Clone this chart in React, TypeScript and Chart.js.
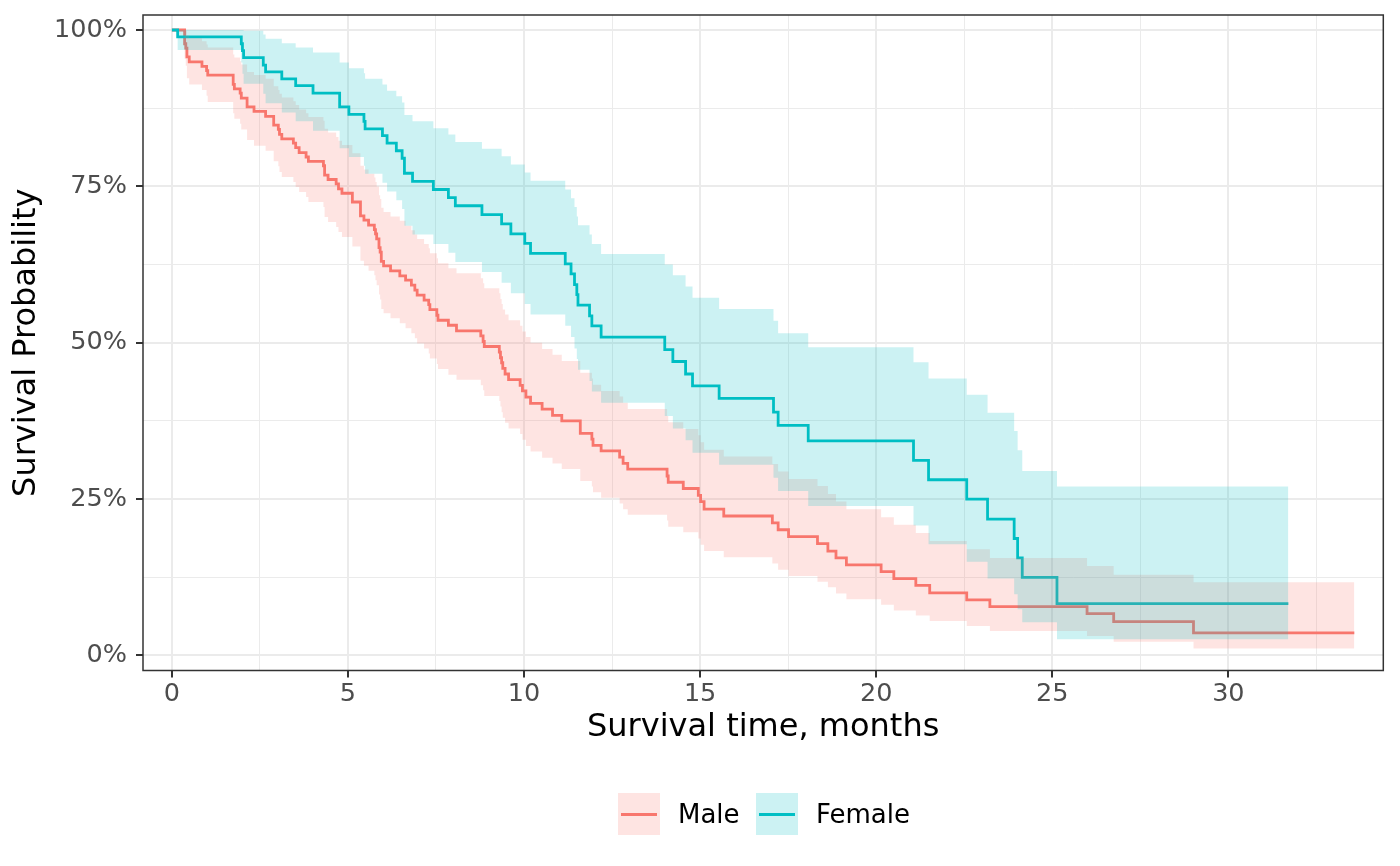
import React, { useEffect, useRef } from "react";
import { Chart, registerables } from "chart.js";

Chart.register(...registerables);

const DAYS_PER_MONTH = 30.4375;
const FONT = "'DejaVu Sans', sans-serif";

// Male group: event times (days), survival estimate and 95% CI bounds
const maleTimeDays = [
  11, 12, 13, 15, 26, 30, 31, 53, 54, 59,
  60, 65, 71, 81, 88, 92, 93, 95, 105, 107,
  110, 116, 118, 131, 132, 135, 142, 144, 147, 156,
  163, 166, 170, 175, 176, 177, 179, 180, 181, 183,
  189, 197, 202, 207, 210, 212, 218, 222, 223, 229,
  230, 239, 246, 267, 269, 270, 283, 284, 285, 286,
  288, 291, 301, 303, 306, 310, 320, 329, 337, 353,
  363, 364, 371, 387, 390, 394, 428, 429, 442, 455,
  457, 460, 477, 519, 524, 533, 558, 567, 574, 583,
  613, 624, 643, 655, 687, 707, 791, 814, 883,
];
const maleSurvival = [
  0.978, 0.971, 0.957, 0.949, 0.942, 0.935, 0.928, 0.913, 0.906, 0.899,
  0.891, 0.877, 0.870, 0.862, 0.848, 0.841, 0.833, 0.826, 0.819, 0.812,
  0.804, 0.797, 0.790, 0.783, 0.768, 0.761, 0.754, 0.746, 0.739, 0.725,
  0.703, 0.696, 0.688, 0.681, 0.674, 0.666, 0.652, 0.645, 0.630, 0.623,
  0.615, 0.607, 0.600, 0.592, 0.584, 0.576, 0.568, 0.561, 0.553, 0.544,
  0.536, 0.528, 0.519, 0.511, 0.502, 0.494, 0.485, 0.476, 0.468, 0.459,
  0.450, 0.441, 0.432, 0.423, 0.413, 0.403, 0.394, 0.384, 0.375, 0.355,
  0.346, 0.336, 0.327, 0.317, 0.307, 0.298, 0.287, 0.277, 0.267, 0.256,
  0.246, 0.234, 0.223, 0.212, 0.201, 0.190, 0.179, 0.167, 0.156, 0.145,
  0.134, 0.123, 0.112, 0.100, 0.089, 0.078, 0.067, 0.054, 0.036,
];
const maleLower = [
  0.954, 0.943, 0.923, 0.913, 0.904, 0.895, 0.885, 0.867, 0.858, 0.850,
  0.841, 0.824, 0.815, 0.807, 0.790, 0.782, 0.773, 0.765, 0.757, 0.749,
  0.741, 0.733, 0.725, 0.717, 0.701, 0.693, 0.685, 0.677, 0.669, 0.654,
  0.631, 0.623, 0.615, 0.608, 0.600, 0.592, 0.577, 0.569, 0.554, 0.547,
  0.539, 0.531, 0.523, 0.515, 0.507, 0.499, 0.491, 0.483, 0.475, 0.466,
  0.458, 0.449, 0.441, 0.432, 0.424, 0.415, 0.407, 0.398, 0.389, 0.380,
  0.372, 0.363, 0.354, 0.345, 0.335, 0.326, 0.316, 0.307, 0.298, 0.279,
  0.270, 0.261, 0.252, 0.243, 0.234, 0.225, 0.216, 0.206, 0.197, 0.187,
  0.177, 0.167, 0.157, 0.147, 0.137, 0.127, 0.118, 0.109, 0.099, 0.090,
  0.081, 0.072, 0.064, 0.055, 0.047, 0.039, 0.031, 0.022, 0.011,
];
const maleUpper = [
  1.000, 0.999, 0.991, 0.987, 0.982, 0.977, 0.972, 0.961, 0.956, 0.950,
  0.945, 0.933, 0.928, 0.922, 0.910, 0.904, 0.898, 0.892, 0.886, 0.880,
  0.873, 0.867, 0.861, 0.855, 0.842, 0.836, 0.829, 0.823, 0.816, 0.803,
  0.783, 0.777, 0.770, 0.764, 0.757, 0.750, 0.736, 0.730, 0.716, 0.709,
  0.702, 0.695, 0.687, 0.680, 0.673, 0.666, 0.658, 0.651, 0.643, 0.635,
  0.627, 0.619, 0.611, 0.603, 0.595, 0.587, 0.579, 0.570, 0.562, 0.553,
  0.545, 0.536, 0.527, 0.518, 0.509, 0.500, 0.490, 0.481, 0.471, 0.452,
  0.443, 0.433, 0.423, 0.414, 0.404, 0.394, 0.383, 0.373, 0.362, 0.352,
  0.341, 0.329, 0.318, 0.306, 0.294, 0.282, 0.271, 0.258, 0.246, 0.234,
  0.221, 0.209, 0.196, 0.183, 0.170, 0.156, 0.143, 0.129, 0.117,
];
const maleEndDay = 1022;

// Female group
const femaleTimeDays = [
  5, 60, 61, 62, 79, 81, 95, 107, 122, 145,
  153, 166, 167, 182, 186, 194, 199, 201, 208, 226,
  239, 245, 268, 285, 293, 305, 310, 340, 345, 348,
  350, 351, 361, 363, 371, 426, 433, 444, 450, 473,
  520, 524, 550, 641, 654, 687, 705, 728, 731, 735, 765,
];
const femaleSurvival = [
  0.989, 0.978, 0.967, 0.956, 0.944, 0.933, 0.922, 0.911, 0.899, 0.877,
  0.865, 0.854, 0.842, 0.831, 0.819, 0.807, 0.795, 0.771, 0.758, 0.745,
  0.732, 0.719, 0.705, 0.690, 0.674, 0.659, 0.643, 0.626, 0.610, 0.593,
  0.577, 0.560, 0.543, 0.527, 0.509, 0.489, 0.470, 0.450, 0.431, 0.411,
  0.389, 0.368, 0.343, 0.312, 0.281, 0.250, 0.218, 0.187, 0.156, 0.125, 0.083,
];
const femaleLower = [
  0.968, 0.948, 0.930, 0.914, 0.898, 0.883, 0.868, 0.854, 0.839, 0.811,
  0.797, 0.783, 0.770, 0.756, 0.742, 0.728, 0.714, 0.687, 0.673, 0.658,
  0.644, 0.629, 0.613, 0.596, 0.579, 0.562, 0.545, 0.527, 0.509, 0.491,
  0.474, 0.457, 0.439, 0.422, 0.404, 0.383, 0.363, 0.344, 0.324, 0.305,
  0.284, 0.263, 0.239, 0.208, 0.178, 0.150, 0.123, 0.098, 0.074, 0.053, 0.026,
];
const femaleUpper = [
  1.000, 1.000, 1.000, 0.999, 0.993, 0.986, 0.979, 0.972, 0.964, 0.948,
  0.939, 0.931, 0.922, 0.913, 0.903, 0.894, 0.884, 0.864, 0.854, 0.843,
  0.833, 0.821, 0.810, 0.798, 0.785, 0.772, 0.759, 0.745, 0.731, 0.717,
  0.702, 0.688, 0.673, 0.658, 0.642, 0.625, 0.608, 0.590, 0.572, 0.554,
  0.535, 0.515, 0.493, 0.469, 0.443, 0.417, 0.388, 0.359, 0.328, 0.295, 0.270,
];
const femaleEndDay = 965;

// Axis ticks
const xMajorTicks = [0, 5, 10, 15, 20, 25, 30];
const xTickLabels = ["0", "5", "10", "15", "20", "25", "30"];
const xMinorTicks = [2.5, 7.5, 12.5, 17.5, 22.5, 27.5, 32.5];
const yMajorTicks = [0, 0.25, 0.5, 0.75, 1];
const yTickLabels = ["0%", "25%", "50%", "75%", "100%"];
const yMinorTicks = [0.125, 0.375, 0.625, 0.875];

const groupNames = ["Male", "Female"];
const MALE_COLOR = "#F8766D";
const FEMALE_COLOR = "#00BFC4";
const MALE_FILL = "rgba(248,118,109,0.2)";
const FEMALE_FILL = "rgba(0,191,196,0.2)";

function stepPoints(times: number[], values: number[], endDay: number) {
  const pts: { x: number; y: number }[] = [{ x: 0, y: 1 }];
  let prev = 1;
  times.forEach((d, i) => {
    const t = d / DAYS_PER_MONTH;
    pts.push({ x: t, y: prev });
    pts.push({ x: t, y: values[i] });
    prev = values[i];
  });
  pts.push({ x: endDay / DAYS_PER_MONTH, y: prev });
  return pts;
}

const isIn = (v: number, arr: number[]) => arr.some((m) => Math.abs(m - v) < 1e-9);

const panelBorder = {
  id: "panelBorder",
  afterDraw(chart: any) {
    const { ctx, chartArea: a } = chart;
    ctx.save();
    ctx.strokeStyle = "#333333";
    ctx.lineWidth = 1.5;
    ctx.strokeRect(a.left, a.top, a.right - a.left, a.bottom - a.top);
    ctx.restore();
  },
};

export default function App() {
  const ref = useRef<HTMLCanvasElement | null>(null);

  useEffect(() => {
    if (!ref.current) return;
    const ribbon = (data: any, color: string, fill: any) => ({
      data,
      borderColor: "rgba(0,0,0,0)",
      borderWidth: 0,
      backgroundColor: color,
      pointRadius: 0,
      fill,
      tension: 0,
    });
    const line = (data: any, color: string, label: string) => ({
      label,
      data,
      borderColor: color,
      borderWidth: 2.8,
      pointRadius: 0,
      fill: false,
      tension: 0,
      borderJoinStyle: "miter",
    });

    const chart = new Chart(ref.current, {
      type: "line",
      data: {
        datasets: [
          ribbon(stepPoints(femaleTimeDays, femaleUpper, femaleEndDay), FEMALE_FILL, "+1"),
          ribbon(stepPoints(femaleTimeDays, femaleLower, femaleEndDay), "rgba(0,0,0,0)", false),
          ribbon(stepPoints(maleTimeDays, maleUpper, maleEndDay), MALE_FILL, "+1"),
          ribbon(stepPoints(maleTimeDays, maleLower, maleEndDay), "rgba(0,0,0,0)", false),
          line(stepPoints(femaleTimeDays, femaleSurvival, femaleEndDay), FEMALE_COLOR, groupNames[1]),
          line(stepPoints(maleTimeDays, maleSurvival, maleEndDay), MALE_COLOR, groupNames[0]),
        ] as any,
      },
      options: {
        animation: false,
        responsive: false,
        events: [],
        layout: { padding: { top: 15, right: 16.7, bottom: 119.5, left: 0 } },
        plugins: {
          legend: { display: false },
          tooltip: { enabled: false },
          filler: { propagate: false },
        },
        scales: {
          x: {
            type: "linear",
            min: -0.82,
            max: 34.4,
            afterBuildTicks: (s: any) => {
              s.ticks = [...xMajorTicks, ...xMinorTicks].sort((a, b) => a - b).map((v) => ({ value: v }));
            },
            afterFit: (s: any) => {
              s.height = 76;
              s.paddingLeft = 0;
              s.paddingRight = 0;
            },
            border: { display: false },
            grid: {
              color: "#EBEBEB",
              lineWidth: (c: any) => (c.tick && isIn(c.tick.value, xMajorTicks) ? 2 : 1),
              tickLength: 7,
              tickWidth: 2,
              tickColor: (c: any) => (c.tick && isIn(c.tick.value, xMajorTicks) ? "#333333" : "rgba(0,0,0,0)"),
            },
            ticks: {
              autoSkip: false,
              maxRotation: 0,
              padding: 2,
              color: "#4D4D4D",
              font: { family: FONT, size: 25.5 },
              callback: (v: any) => {
                const i = xMajorTicks.findIndex((m) => Math.abs(m - v) < 1e-9);
                return i >= 0 ? xTickLabels[i] : "";
              },
            },
            title: {
              display: true,
              text: "Survival time, months",
              color: "#000000",
              font: { family: FONT, size: 32 },
              padding: { top: 0, bottom: 0 },
            },
          },
          y: {
            type: "linear",
            min: -0.024,
            max: 1.024,
            afterBuildTicks: (s: any) => {
              s.ticks = [...yMajorTicks, ...yMinorTicks].sort((a, b) => a - b).map((v) => ({ value: v }));
            },
            afterFit: (s: any) => {
              s.width = 143;
              s.paddingTop = 0;
              s.paddingBottom = 0;
            },
            border: { display: false },
            grid: {
              color: "#EBEBEB",
              lineWidth: (c: any) => (c.tick && isIn(c.tick.value, yMajorTicks) ? 2 : 1),
              tickLength: 7,
              tickWidth: 2,
              tickColor: (c: any) => (c.tick && isIn(c.tick.value, yMajorTicks) ? "#333333" : "rgba(0,0,0,0)"),
            },
            ticks: {
              autoSkip: false,
              padding: 9,
              color: "#4D4D4D",
              font: { family: FONT, size: 25.5, lineHeight: 1.1 },
              callback: (v: any) => {
                const i = yMajorTicks.findIndex((m) => Math.abs(m - v) < 1e-9);
                return i >= 0 ? yTickLabels[i] : "";
              },
            },
            title: {
              display: true,
              text: "Survival Probability",
              color: "#000000",
              font: { family: FONT, size: 32 },
              padding: { top: 7, bottom: 0 },
            },
          },
        },
      } as any,
      plugins: [panelBorder],
    });
    return () => chart.destroy();
  }, []);

  const legendText: React.CSSProperties = {
    position: "absolute",
    top: 793,
    height: 42,
    lineHeight: "42px",
    fontFamily: FONT,
    fontSize: 26,
    color: "#000000",
    whiteSpace: "nowrap",
  };
  const keyBox = (left: number, fill: string, color: string) => (
    <div
      style={{
        position: "absolute",
        left,
        top: 793,
        width: 42,
        height: 42,
        background: fill,
      }}
    >
      <div
        style={{
          position: "absolute",
          left: 3,
          right: 3,
          top: 19.5,
          height: 3,
          background: color,
        }}
      />
    </div>
  );

  return (
    <div
      style={{
        position: "fixed",
        left: 0,
        top: 0,
        width: 1400,
        height: 866,
        background: "#ffffff",
        overflow: "hidden",
      }}
    >
      <canvas ref={ref} width={1400} height={866} style={{ width: 1400, height: 866, display: "block" }} />
      {keyBox(618, MALE_FILL, MALE_COLOR)}
      <div style={{ ...legendText, left: 678 }}>{groupNames[0]}</div>
      {keyBox(756, FEMALE_FILL, FEMALE_COLOR)}
      <div style={{ ...legendText, left: 816 }}>{groupNames[1]}</div>
    </div>
  );
}
